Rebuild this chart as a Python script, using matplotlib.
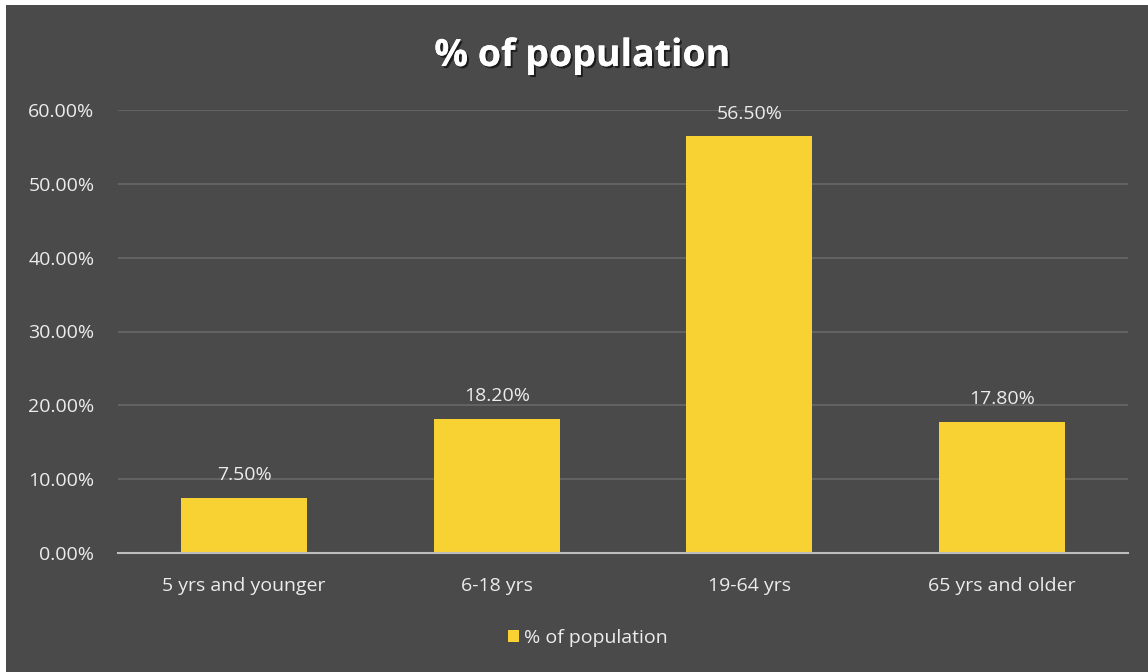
import matplotlib.pyplot as plt
from matplotlib.patches import Rectangle
import matplotlib.patheffects as pe

# age groups and their share of population (%)
groups = ["5 yrs and younger", "6-18 yrs", "19-64 yrs", "65 yrs and older"]
share = [7.5, 18.2, 56.5, 17.8]
y_ticks = [0, 10, 20, 30, 40, 50, 60]

BG = "#4a4a4a"
BAR = "#f7d232"
TXT = "#ececec"
GRID = "#686868"

plt.rcParams["font.family"] = ["Open Sans", "DejaVu Sans"]

fig = plt.figure(figsize=(11.48, 6.72), dpi=100)
fig.patch.set_facecolor(BG)
# thin white margin along the top and left edges
fig.patches.append(Rectangle((0, 1 - 5 / 672), 1, 5 / 672, transform=fig.transFigure,
                             facecolor="white", edgecolor="none"))
fig.patches.append(Rectangle((0, 0), 6 / 1148, 1, transform=fig.transFigure,
                             facecolor="white", edgecolor="none"))

ax = fig.add_axes([118 / 1148, 1 - 553 / 672, 1010 / 1148, 443 / 672])
ax.set_facecolor("none")

x = range(len(groups))
ax.bar(x, share, width=0.5, color=BAR, edgecolor="none", zorder=3, label="% of population")
for xi, v in zip(x, share):
    ax.annotate(f"{v:.2f}%", (xi, v), xytext=(0, 9.5), textcoords="offset points",
                ha="center", va="bottom", color=TXT, fontsize=14)

ax.set_xlim(-0.5, 3.5)
ax.set_ylim(0, 60)
ax.set_yticks(y_ticks)
ax.set_yticklabels([f"{t:.2f}%" for t in y_ticks])
ax.set_xticks(list(x))
ax.set_xticklabels(groups)
ax.tick_params(axis="both", length=0, colors=TXT, labelsize=14)
ax.tick_params(axis="y", pad=17)
ax.tick_params(axis="x", pad=17)
ax.grid(axis="y", color=GRID, linewidth=1.2, zorder=0)
for side in ["top", "right", "left"]:
    ax.spines[side].set_visible(False)
ax.spines["bottom"].set_color("#bdbdbd")
ax.spines["bottom"].set_linewidth(1.5)
ax.spines["bottom"].set_zorder(4)

fig.text(0.507, 1 - 56 / 672, "% of population", ha="center", va="center",
         color="white", fontsize=27, fontweight="bold",
         path_effects=[pe.withSimplePatchShadow(offset=(1.5, -1.5), shadow_rgbFace="black", alpha=0.6),
                       pe.Normal()])

leg = fig.legend(loc="center", bbox_to_anchor=(0.512, 1 - 638 / 672), frameon=False,
                 fontsize=14, handlelength=0.6, handleheight=0.6, handletextpad=0.25)
for t in leg.get_texts():
    t.set_color(TXT)

fig.savefig("out.png", dpi=100, facecolor=fig.get_facecolor())
